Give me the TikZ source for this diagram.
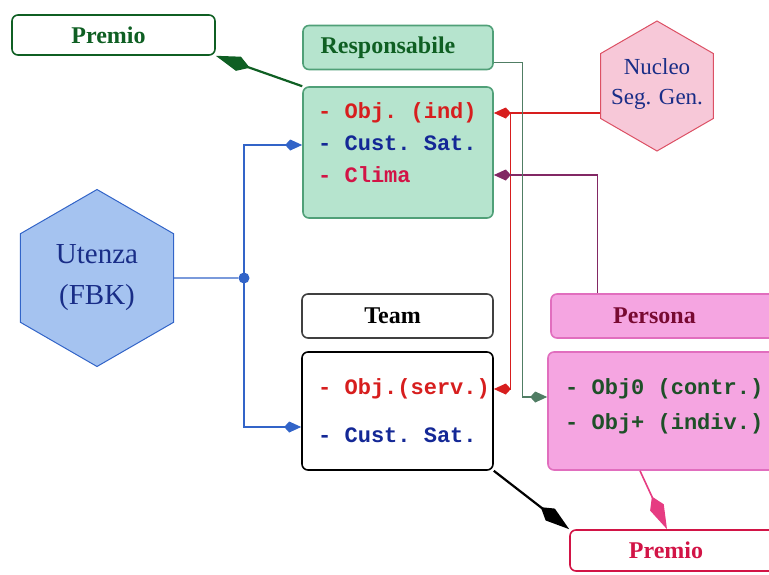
\documentclass[tikz,border=0pt]{standalone}
\usepackage{fontspec}
\setmainfont{Liberation Serif}
\setmonofont{Liberation Mono}
\usetikzlibrary{shapes.geometric, positioning, arrows.meta}

\definecolor{mint}{RGB}{182,228,206}
\definecolor{mintline}{RGB}{80,160,120}
\definecolor{darkgreen}{RGB}{15,95,35}
\definecolor{objred}{RGB}{215,30,30}
\definecolor{custblue}{RGB}{20,40,150}
\definecolor{crimson}{RGB}{210,20,70}
\definecolor{pinkfill}{RGB}{245,165,225}
\definecolor{pinkline}{RGB}{225,110,190}
\definecolor{pinkarrow}{RGB}{230,60,130}
\definecolor{maroon}{RGB}{120,10,50}
\definecolor{hexpink}{RGB}{247,200,216}
\definecolor{hexred}{RGB}{220,80,100}
\definecolor{hexblue}{RGB}{165,195,240}
\definecolor{lineblue}{RGB}{50,100,200}
\definecolor{navy}{RGB}{25,45,135}
\definecolor{purpleline}{RGB}{130,40,100}
\definecolor{grayline}{RGB}{80,125,100}
\definecolor{persgreen}{RGB}{30,80,40}

\tikzset{
x=1pt, y=-1pt, % pixel-like units, y grows downwards
box/.style={rectangle, rounded corners=6pt, line width=1.6pt, inner sep=0pt}, % the rounded boxes
head/.style={box, minimum height=44pt, font=\fontsize{24}{28}\selectfont\bfseries}, % boxes with a title
item/.style={anchor=west, inner sep=0pt, font=\fontsize{22}{26}\selectfont\ttfamily\bfseries}, % text lines inside a box
hexa/.style={regular polygon, regular polygon sides=6, shape border rotate=30, line width=1pt, align=center, inner sep=0pt}, % hexagons
link/.style={line width=1.3pt}, % thin connectors
tip/.style={-{Kite[length=17pt,width=11pt,inset=5pt]}}, % small arrow heads
bigtip/.style={-{Kite[length=36pt,width=15pt,inset=12pt]}, line width=2.2pt}, % arrows towards the prizes
}

\begin{document}
\begin{tikzpicture}
    \useasboundingbox (0,0) rectangle (769,574);

    % hexagons
    \node[hexa, fill=hexblue, draw=lineblue, minimum size=177pt, text=navy, font=\fontsize{29}{41}\selectfont] (utenza) at (97,278) {Utenza\\(FBK)};
    \node[hexa, fill=hexpink, draw=hexred, minimum size=130pt,
      label={[text=navy, font=\fontsize{23}{30}\selectfont, align=center, yshift=2pt]center:Nucleo\\Seg. Gen.}] (nucleo) at (657,86) {};

    % boxes
    \node[head, draw=darkgreen, fill=white, text=darkgreen, minimum width=203pt, minimum height=40pt] (premioTop) at (113.5,35) {Premio\hspace*{10pt}};
    \node[head, draw=mintline, fill=mint, text=darkgreen, minimum width=190pt] (respHead) at (398,47.5) {Responsabile\hspace*{20pt}};
    \node[box, draw=mintline, fill=mint, minimum width=190pt, minimum height=131pt] (respBody) at (398,152.5) {};
    \node[head, draw=black!75, fill=white, text=black, minimum width=191pt] (teamHead) at (397.5,316) {Team\hspace*{10pt}};
    \node[box, draw=black, fill=white, minimum width=191pt, minimum height=118pt] (teamBody) at (397.5,411) {};
    \node[head, draw=pinkline, fill=pinkfill, text=maroon, minimum width=229pt] (persHead) at (665.5,316) {Persona\hspace*{22pt}};
    \node[box, draw=pinkline, fill=pinkfill, minimum width=232pt, minimum height=118pt] (persBody) at (664,411) {};
    \node[head, draw=crimson, fill=white, text=crimson, minimum width=210pt, minimum height=41pt] (premioBot) at (675,550.5) {Premio\hspace*{18pt}};

    % lines of text
    \node[item, text=objred] (objInd) at (318,113) {- Obj. (ind)};
    \node[item, text=custblue] (custA) at (318,143) {- Cust. Sat.};
    \node[item, text=crimson] (clima) at (318,175) {- Clima};
    \node[item, text=objred] (objServ) at (318,389) {- Obj.(serv.)};
    \node[item, text=custblue] (custB) at (318,435) {- Cust. Sat.};
    \node[item, text=persgreen] (objZero) at (565,389) {- Obj0 (contr.)};
    \node[item, text=persgreen] (objPlus) at (565,424) {- Obj+ (indiv.)};

    % Utenza to both boxes
    \node[circle, fill=lineblue, minimum size=11pt, inner sep=0pt] (dot) at (244,278) {};
    \draw[link, lineblue] (utenza.east) -- (dot);
    \draw[link, lineblue, tip] (dot.center) |- ([yshift=-2pt]respBody.west |- custA);
    \draw[link, lineblue, tip] (dot.center) |- ([yshift=8pt]teamBody.west |- custB);

    % Nucleo to the objectives
    \coordinate (split) at ([xshift=17pt]respBody.east |- objInd);
    \draw[link, objred, tip] (nucleo.west |- objInd) -- (respBody.east |- objInd);
    \draw[link, objred, tip] (split) |- (teamBody.east |- objServ);

    % Persona to Clima, Responsabile to Persona
    \coordinate (purpleTop) at ([xshift=-68pt]persHead.north);
    \draw[link, purpleline, tip] (purpleTop) |- (respBody.east |- clima);
    \draw[link, grayline, tip] ([yshift=-15pt]respHead.east) -- ++(29,0) |- ([yshift=-8pt]persBody.west |- objZero);

    % prizes
    \draw[bigtip, darkgreen] (respBody.north west) -- (premioTop.south east);
    \draw[bigtip, black] (teamBody.south east) -- (premioBot.north west);
    \draw[bigtip, pinkarrow, line width=1.6pt] ([xshift=-24pt]persBody.south) -- ([xshift=-8pt]premioBot.north);
\end{tikzpicture}
\end{document}
